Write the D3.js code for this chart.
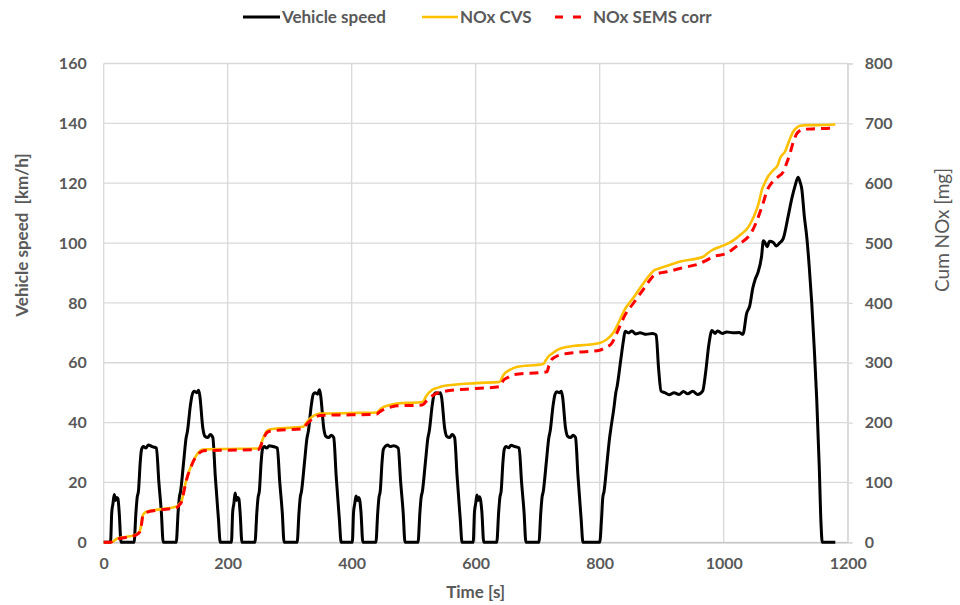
<!DOCTYPE html>
<html><head><meta charset="utf-8">
<script src="https://cdn.jsdelivr.net/npm/d3@7"></script>
<style>
body{margin:0;background:#fff;}
svg{display:block;font-family:Lato,"Open Sans",sans-serif;}
</style>
</head><body>
<svg id="chart" width="960" height="605"></svg>
<script>
// ---------- DATA ----------
const seriesNames = ["Vehicle speed", "NOx CVS", "NOx SEMS corr"];
const xTicks = [0, 200, 400, 600, 800, 1000, 1200];
const speedTicks = [0, 20, 40, 60, 80, 100, 120, 140, 160];
const noxTicks = [0, 100, 200, 300, 400, 500, 600, 700, 800];
const xTitle = "Time [s]";
const yLeftTitle = "Vehicle speed  [km/h]";
const yRightTitle = "Cum NOx [mg]";

// Vehicle speed [time s, km/h]
const speedData = [
  [0,0],[11,0],[13,10],[15,13],[17,16],[19,14],[21,15],[23,14.5],[25,10],[28,0],
  [49,0],[52,10],[54,15],[56,17],[59,27],[61,31],[64,32],[68,31.5],[72,32.5],[78,32],[85,31.5],[89,20],[93,10],[96,0],
  [117,0],[120,10],[122,15],[124,17],[129,27],[133,35],[135,37],[140,46],[143,49.5],[146,50.5],[150,50],[153,50.8],[155,49],[160,38],[163,35.5],[168,35],[172,36],[176,35],[180,22],[185,8],[188,0],
  [195,0],[206,0],[208,10],[210,13],[212,16.5],[214,14],[216,15],[218,14.5],[220,10],[223,0],
  [244,0],[247,10],[249,15],[251,17],[254,27],[256,31],[259,32],[263,31.5],[267,32.3],[273,32],[280,31.5],[284,20],[288,10],[291,0],
  [312,0],[315,10],[317,15],[319,17],[324,27],[328,35],[330,37],[335,46],[338,49.5],[341,50],[345,49.5],[348,51],[350,49],[355,38],[358,35.5],[363,35],[367,35.8],[371,35],[375,22],[380,8],[383,0],
  [390,0],[401,0],[403,10],[405,13],[407,15.5],[409,14],[411,15],[413,14],[415,10],[418,0],
  [439,0],[442,10],[444,15],[446,17],[449,27],[451,31],[454,32],[458,32.5],[462,32],[468,32.3],[475,31.5],[479,20],[483,10],[486,0],
  [507,0],[510,10],[512,15],[514,17],[519,27],[523,35],[525,37],[530,46],[533,49.5],[536,50],[540,49.7],[543,50],[545,48.5],[550,38],[553,35.5],[558,35],[562,36],[566,35],[570,22],[575,8],[578,0],
  [585,0],[596,0],[598,10],[600,13],[602,15.8],[604,14],[606,15.2],[608,14],[610,10],[613,0],
  [634,0],[637,10],[639,15],[641,17],[644,27],[646,31],[649,32],[653,31.6],[657,32.4],[663,32],[670,31.5],[674,20],[678,10],[681,0],
  [702,0],[705,10],[707,15],[709,17],[714,27],[718,35],[720,37],[725,46],[728,49.5],[731,50.3],[735,50],[738,50.5],[740,48.8],[745,38],[748,35.5],[753,35],[757,35.8],[761,35],[765,22],[770,8],[773,0],
  [780,0],[800,0],[803,8],[805,15],[807,17],[812,27],[816,35],[818,38],[823,45],[826,50],[828,52],[834,61],[838,67],[841,70.5],
  [846,70],[852,70.6],[858,69.6],[865,70],[875,69.5],[885,69.8],[891,69.3],[895,58],[899,50.5],[905,50],[912,49.3],[920,50],[928,49.4],[935,50.4],[942,49.6],[950,50.5],[958,49.4],[966,50.5],
  [971,57],[976,66],[981,70.8],[986,69.8],[990,70.6],[998,69.8],[1005,70.3],[1015,70],[1025,70.1],[1031,69.5],
  [1037,76.5],[1042,79],[1047,85],[1051,88],[1055,90],[1061,95.4],[1064,100.8],[1067,100],[1070,98.8],[1074,100.6],[1080,100.2],[1085,99],[1090,100],[1096,101.5],
  [1104,109],[1110,115],[1115,119],[1120,122],[1123,120.5],[1126,118],[1130,109],[1134,102],[1138,92],[1142,80],[1146,65],[1150,48],[1154,26],[1157,6],[1159,0],[1180,0]
];

// Cumulative NOx measured by CVS [time s, mg]
const noxCvsData = [
  [0,0],[13,0],[21,6],[35,9],[50,12],[58,18],[61,32],[63,45],[66,49],[69,51],[90,55],[118,60],[122,64],[126,70],[130,90],[134,107],[140,125],[145,137],[152,149],[161,155],
  [200,156],[250,157],[253,162],[256,171],[260,180],[263,186],[270,189],[279,190],[322,193],[327,200],[333,207],[340,212],[349,215],[400,216],[440,217],[444,220],[448,224],[460,229],[473,232],
  [510,234],[515,235],[520,244],[529,254],[538,258],[548,261],[601,266],[639,268],[642,274],[645,280],[655,288],[666,293],[709,298],[713,304],[717,310],[724,316],[731,321],[745,326],[757,328],[780,330],
  [800,333],[810,338],[822,350],[830,366],[841,390],[854,408],[870,432],[889,455],[897,458],[915,464],[930,469],[967,477],[973,482],[981,488],[1000,496],[1015,504],[1026,513],[1040,527],
  [1049,545],[1056,565],[1062,590],[1066,600],[1072,612],[1080,622],[1087,630],[1091,642],[1099,653],[1106,672],[1112,686],[1118,693],[1123,696],[1135,697],[1150,697],[1180,698]
];

// Cumulative NOx measured by SEMS, corrected [time s, mg]
const noxSemsData = [
  [0,0],[10,0],[21,5],[35,8],[50,11],[58,17],[61,30],[63,44],[66,48],[69,50],[90,54],[118,58],[122,62],[126,69],[130,88],[134,106],[140,124],[145,136],[152,147],[161,153],
  [200,154],[250,155],[253,160],[256,169],[260,178],[263,183],[270,186],[279,187],[322,190],[327,197],[333,203],[340,208],[349,212],[400,213],[440,214],[444,217],[448,220],[460,225],[473,228],
  [510,229],[515,230],[522,238],[532,246],[540,250],[548,252],[601,257],[639,260],[642,265],[645,271],[653,276],[661,280],[715,285],[718,295],[722,305],[729,310],[736,313],[760,317],
  [800,321],[810,326],[819,332],[830,355],[841,380],[854,399],[870,422],[889,447],[897,450],[908,452],[935,459],[962,466],[972,471],[983,477],[1005,483],[1015,490],[1026,499],[1040,511],
  [1046,520],[1053,536],[1058,550],[1064,568],[1070,588],[1077,600],[1087,610],[1096,619],[1101,632],[1107,650],[1112,668],[1118,683],[1123,688],[1128,690],[1150,691],[1171,692],[1177,693]
];

// ---------- STYLE / LAYOUT ----------
const W = 960, H = 605;
const plot = {left: 103.7, right: 847.7, top: 63.5, bottom: 542.3};
const textColor = "#595959";
const gridColor = "#d9d9d9";
const colors = ["#000000", "#FFC000", "#FF0000"];

const svg = d3.select("#chart");
svg.append("rect").attr("width", W).attr("height", H).attr("fill", "#fff");

const x = d3.scaleLinear().domain([0, 1200]).range([plot.left, plot.right]);
const yL = d3.scaleLinear().domain([0, 160]).range([plot.bottom, plot.top]);
const yR = d3.scaleLinear().domain([0, 800]).range([plot.bottom, plot.top]);

// gridlines
const grid = svg.append("g");
grid.selectAll("line.h").data(speedTicks).join("line")
  .attr("x1", plot.left).attr("x2", plot.right)
  .attr("y1", d => yL(d)).attr("y2", d => yL(d))
  .attr("stroke", gridColor).attr("stroke-width", 1.3);
grid.selectAll("line.v").data(xTicks).join("line")
  .attr("x1", d => x(d)).attr("x2", d => x(d))
  .attr("y1", plot.top).attr("y2", plot.bottom)
  .attr("stroke", gridColor).attr("stroke-width", 1.3);

// axes
const font = "16px";
const axB = d3.axisBottom(x).tickValues(xTicks).tickFormat(d3.format("d")).tickSize(0).tickPadding(15);
const gB = svg.append("g").attr("transform", `translate(0,${plot.bottom})`).call(axB);
gB.select(".domain").attr("stroke", "#bfbfbf").attr("stroke-width", 1.3);

const axL = d3.axisLeft(yL).tickValues(speedTicks).tickSize(0).tickPadding(17);
const gL = svg.append("g").attr("transform", `translate(${plot.left},0)`).call(axL);
gL.select(".domain").remove();

const axR = d3.axisRight(yR).tickValues(noxTicks).tickSize(5).tickPadding(12);
const gR = svg.append("g").attr("transform", `translate(${plot.right},0)`).call(axR);
gR.select(".domain").attr("stroke", gridColor).attr("stroke-width", 1.3);
gR.selectAll(".tick line").attr("stroke", gridColor).attr("stroke-width", 1.3);

[gB, gL, gR].forEach(g => g.selectAll(".tick text")
  .attr("fill", textColor).style("font-size", font).style("font-weight", 700)
  .style("font-family", "Lato, sans-serif"));

// axis titles
svg.append("text").attr("x", (plot.left + plot.right) / 2).attr("y", 598)
  .attr("text-anchor", "middle").attr("fill", textColor)
  .style("font-size", "17px").style("font-weight", 700).text(xTitle);
svg.append("text").attr("transform", "translate(28,235) rotate(-90)")
  .attr("text-anchor", "middle").attr("fill", textColor)
  .style("white-space", "pre")
  .style("font-size", "17px").style("font-weight", 700).text(yLeftTitle);
svg.append("text").attr("transform", "translate(949,230) rotate(-90)")
  .attr("text-anchor", "middle").attr("fill", textColor)
  .style("font-size", "19px").style("font-weight", 400).text(yRightTitle);

// series
const lineSpeed = d3.line().x(d => x(d[0])).y(d => yL(d[1])).curve(d3.curveMonotoneX);
const lineNox = d3.line().x(d => x(d[0])).y(d => yR(d[1])).curve(d3.curveMonotoneX);

svg.append("path").datum(speedData).attr("d", lineSpeed)
  .attr("fill", "none").attr("stroke", colors[0]).attr("stroke-width", 3)
  .attr("stroke-linejoin", "round");
svg.append("path").datum(noxCvsData).attr("d", lineNox)
  .attr("fill", "none").attr("stroke", colors[1]).attr("stroke-width", 2.6)
  .attr("stroke-linejoin", "round");
svg.append("path").datum(noxSemsData).attr("d", lineNox)
  .attr("fill", "none").attr("stroke", colors[2]).attr("stroke-width", 3)
  .attr("stroke-dasharray", "9,6");

// legend
const legendItems = [
  {x1: 243, x2: 280, tx: 282, dash: null, w: 3},
  {x1: 422, x2: 458, tx: 460, dash: null, w: 2.6},
  {x1: 555, x2: 581, tx: 593, dash: "8,10", w: 3}
];
const lg = svg.append("g");
legendItems.forEach((it, i) => {
  lg.append("line").attr("x1", it.x1).attr("x2", it.x2).attr("y1", 17).attr("y2", 17)
    .attr("stroke", colors[i]).attr("stroke-width", it.w)
    .attr("stroke-dasharray", it.dash);
  lg.append("text").attr("x", it.tx).attr("y", 17).attr("dy", "0.35em")
    .attr("fill", textColor).style("font-size", "17px").style("font-weight", 700)
    .text(seriesNames[i]);
});
</script>
</body></html>
